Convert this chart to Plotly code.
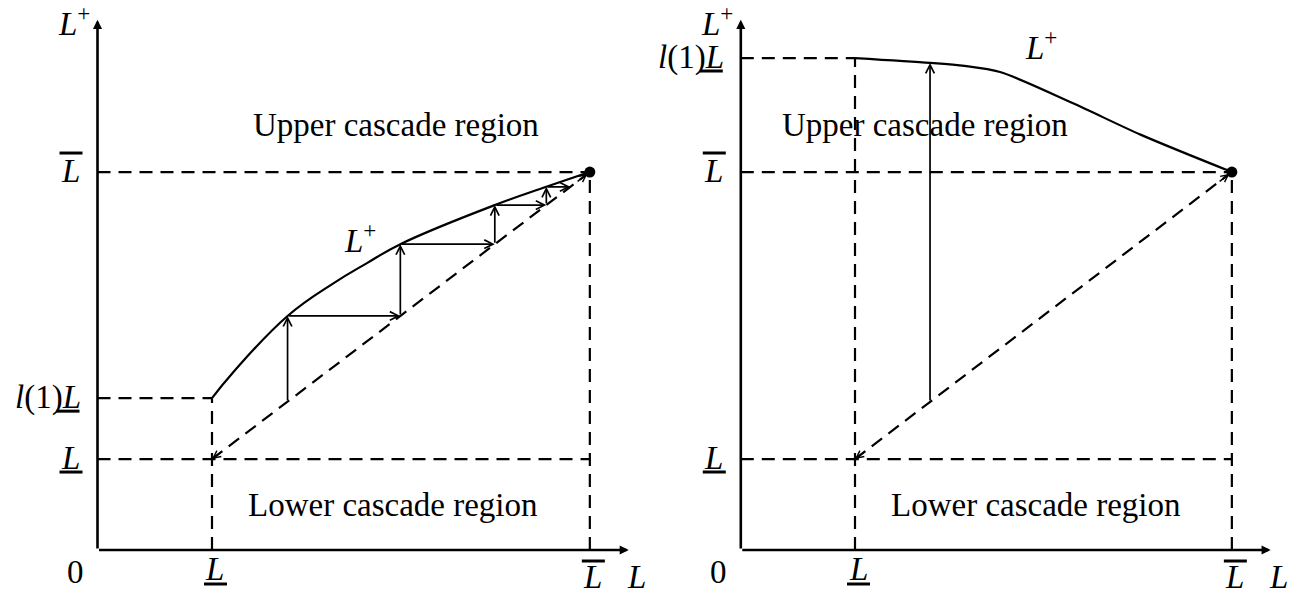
import plotly.graph_objects as go

# ---- conceptual values (data units) ----
L_low = 1.0          # underline L
L_high = 4.3         # overline L
l1L_left = 1.70      # l(1)L  (left panel)
l1L_right = 5.61     # l(1)L  (right panel)
axis_top = 6.05
axis_right = 4.64
axis_y0 = -0.046

# left panel curve L+ (concave, increasing)
left_curve_L = [1.0, 1.18, 1.66, 2.06, 2.35, 2.645, 3.47, 3.92, 4.3]
left_curve_Lplus = [1.70, 1.99, 2.645, 3.02, 3.25, 3.47, 3.92, 4.13, 4.3]

# cascade staircase (left panel)
stair_from = [1.66, 2.645, 3.47, 3.92]
stair_to = [2.645, 3.47, 3.92, 4.13]

# right panel curve L+ (decreasing)
right_curve_L = [1.0, 1.657, 1.96, 2.27, 2.91, 3.50, 4.3]
right_curve_Lplus = [5.61, 5.555, 5.52, 5.45, 5.09, 4.73, 4.30]
right_jump_L = 1.657
right_jump_Lplus = 5.555

FONT = "Liberation Serif"
FS = 33
BLACK = "black"
DASH = "13px,8px"

fig = go.Figure()

IL = '<i>L</i>'
LP = '<i>L</i><sup>+</sup>'


def dashed(xs, ys, xr, yr):
    fig.add_trace(go.Scatter(x=xs, y=ys, mode="lines", xaxis=xr, yaxis=yr,
                             line=dict(color=BLACK, width=2.2, dash=DASH),
                             hoverinfo="skip"))


def arrow(x0, y0, x1, y1, xr, yr, head=5, size=1.0, width=1.7, standoff=0):
    fig.add_annotation(x=x1, y=y1, ax=x0, ay=y0, xref=xr, yref=yr,
                       axref=xr, ayref=yr, text="", showarrow=True,
                       arrowhead=head, arrowsize=size, arrowwidth=width,
                       arrowcolor=BLACK, standoff=standoff)


def label(x, y, txt, xr, yr, xanchor="center", yanchor="middle", size=FS, xs=0, ys=0):
    fig.add_annotation(x=x, y=y, xref=xr, yref=yr, text=txt, showarrow=False,
                       xanchor=xanchor, yanchor=yanchor, xshift=xs, yshift=ys,
                       font=dict(family=FONT, size=size, color=BLACK))


def bar(x, y, xr, yr, dx0, dx1, dy):
    # over/under bar of a math label, offsets in pixels from the anchor
    fig.add_shape(type="line", xref=xr, yref=yr, xsizemode="pixel", ysizemode="pixel",
                  xanchor=x, yanchor=y, x0=dx0, x1=dx1, y0=dy, y1=dy,
                  line=dict(color=BLACK, width=3))


panels = [("x", "y", l1L_left), ("x2", "y2", l1L_right)]

for i, (xa, ya, l1) in enumerate(panels):
    # dashed guide lines
    dashed([0, L_high], [L_high, L_high], xa, ya)
    dashed([L_high, L_high], [axis_y0, L_high], xa, ya)
    dashed([0, L_high], [L_low, L_low], xa, ya)
    dashed([0, L_low], [l1, l1], xa, ya)
    dashed([L_low, L_low], [axis_y0, l1], xa, ya)
    dashed([L_low, L_high], [L_low, L_high], xa, ya)
    # diagonal arrow heads
    arrow(L_low + 0.1, L_low + 0.1, L_low, L_low, xa, ya, head=5, size=0.9, width=1.6)
    arrow(L_high - 0.12, L_high - 0.12, L_high, L_high, xa, ya, head=5, size=0.9, width=1.6, standoff=3)
    # axes
    arrow(0, axis_y0, 0, axis_top, xa, ya, head=2, size=0.7, width=2.6)
    arrow(0, axis_y0, axis_right, axis_y0, xa, ya, head=2, size=0.7, width=2.6)

# curves
fig.add_trace(go.Scatter(x=left_curve_L, y=left_curve_Lplus, mode="lines",
                         xaxis="x", yaxis="y",
                         line=dict(color=BLACK, width=2.2, shape="spline", smoothing=1.2),
                         hoverinfo="skip"))
fig.add_trace(go.Scatter(x=right_curve_L, y=right_curve_Lplus, mode="lines",
                         xaxis="x2", yaxis="y2",
                         line=dict(color=BLACK, width=2.2, shape="spline", smoothing=0.8),
                         hoverinfo="skip"))
# end dots
for xa, ya in [("x", "y"), ("x2", "y2")]:
    fig.add_trace(go.Scatter(x=[L_high], y=[L_high], mode="markers", xaxis=xa, yaxis=ya,
                             marker=dict(color=BLACK, size=11), hoverinfo="skip"))

# staircase arrows
for s, t in zip(stair_from, stair_to):
    arrow(s, s, s, t, "x", "y")
    arrow(s, t, t, t, "x", "y")

# right panel jump
arrow(right_jump_L, right_jump_L, right_jump_L, right_jump_Lplus, "x2", "y2")

# text labels
for i, (xa, ya, l1) in enumerate(panels):
    # axis label L+
    label(0, axis_top, LP, xa, ya, xanchor="right", xs=-6, ys=-1)
    # y tick: overline L
    label(0, L_high, IL, xa, ya, xs=-27, ys=1)
    bar(0, L_high, xa, ya, -38, -15, 19)
    # y tick: underline L
    label(0, L_low, IL, xa, ya, xs=-27, ys=1)
    bar(0, L_low, xa, ya, -38, -15, -13)
    # y tick: l(1) underline L
    label(0, l1, '<i>l</i>(1)' + IL, xa, ya, xanchor="right", xs=-15, ys=1)
    bar(0, l1, xa, ya, -41, -18, -13)
    # origin
    label(0, axis_y0, "0", xa, ya, xs=-22, ys=-22)
    # x ticks
    label(L_low, axis_y0, IL, xa, ya, xs=3, ys=-19)
    bar(L_low, axis_y0, xa, ya, -8, 15, -34)
    label(L_high, axis_y0, IL, xa, ya, xs=3, ys=-27)
    bar(L_high, axis_y0, xa, ya, -8, 15, -11)
    # axis label L
    label(axis_right, axis_y0, IL, xa, ya, xs=8, ys=-27)
    label(2.585, 0.47, "Lower cascade region", xa, ya)

label(2.607, 4.84, "Upper cascade region", "x", "y")
label(1.613, 4.84, "Upper cascade region", "x2", "y2")
label(2.293, 3.54, LP, "x", "y")
label(2.63, 5.76, LP, "x2", "y2")

W, H = 1307, 593
yr = [-0.5404, 6.278]
fig.update_layout(
    width=W, height=H, margin=dict(l=0, r=0, t=0, b=0), autosize=False,
    plot_bgcolor="white", paper_bgcolor="white", showlegend=False,
    xaxis=dict(domain=[0, 0.5], range=[-0.8515, 4.856], visible=False, fixedrange=True),
    yaxis=dict(domain=[0, 1], range=yr, visible=False, fixedrange=True),
    xaxis2=dict(domain=[0.5, 1], range=[-0.7645, 4.958], visible=False, fixedrange=True, anchor="y2"),
    yaxis2=dict(domain=[0, 1], range=yr, visible=False, fixedrange=True, anchor="x2"),
)

fig.write_html("out.html")
